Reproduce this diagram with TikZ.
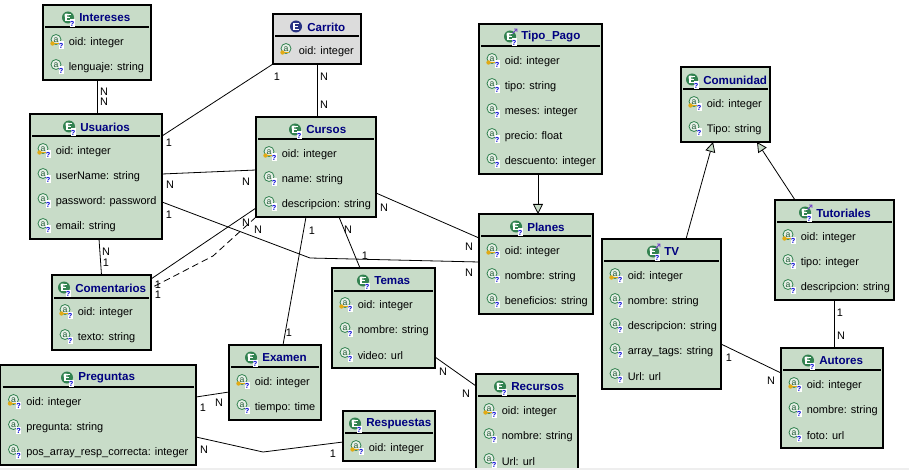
\documentclass[tikz,border=0pt]{standalone}
\usepackage{fontspec}
\setmainfont{Liberation Sans}
\usetikzlibrary{fit,calc,arrows.meta}
\definecolor{boxgreen}{RGB}{200,220,200}
\definecolor{boxgrey}{RGB}{220,220,220}
\definecolor{navy}{RGB}{0,0,128}
\definecolor{icongreen}{RGB}{50,130,80}
\definecolor{iconblue}{RGB}{40,50,130}
\definecolor{qblue}{RGB}{0,0,210}
\definecolor{keyyellow}{RGB}{225,170,20}
\definecolor{iconpurple}{RGB}{110,60,200}
\definecolor{stripgrey}{RGB}{238,238,238}

\newcommand\ebox[7][boxgreen]{%
  \node[ent, fill=#1, fit={(#3,#4)(#5,#6)}] (#2) {};
  \draw[sepline] (#3+2,#7) -- (#5-2,#7);}
\newcommand\etitle[5][eicon]{%
  \pic at (#3-11,#4+0.5) {#1};
  \node[ttl] (#2) at (#3,#4+1) {#5};}
\newcommand\eattr[5][aicon]{%
  \pic at (#3+13,#4-1.5) {#1};
  \node[attr] (#2) at (#3+25.5,#4+1.5) {#5};}

\tikzset{
  ent/.style={draw=black, line width=0.8pt, inner sep=0pt, outer sep=0pt},
  sepline/.style={draw=black, line width=0.8pt},
  ttl/.style={anchor=west, inner sep=0pt, text=navy, font=\bfseries\fontsize{8.7}{10}\selectfont},
  attr/.style={anchor=west, inner sep=0pt, text=black, font=\fontsize{8.2}{9}\selectfont},
  lbl/.style={inner sep=0pt, text=black, font=\fontsize{8.2}{9}\selectfont},
  conn/.style={draw=black, line width=0.6pt},
  dashconn/.style={draw=black, line width=0.6pt, dash pattern=on 5pt off 3pt},
  gen/.style={draw=black, line width=0.6pt, -{Triangle[open, fill=boxgreen, length=7.5pt, width=7.5pt]}},
  qbox/.pic={
    \fill[white] (0.5,0) rectangle (5.5,7.5);
    \node[inner sep=0pt, text=qblue, font=\bfseries\fontsize{5.5}{5.5}\selectfont] at (3,4) {?};
  },
  eicon/.pic={
    \fill[icongreen] (0,0) circle (6);
    \fill[white!35!icongreen] (-1.5,-2) circle (2.5);
    \draw[white, line width=1pt] (2.5,-3) -- (-2,-3) -- (-2,3) -- (2.5,3) (-2,0) -- (2,0);
    \pic at (1,2) {qbox};
  },
  eiconp/.pic={
    \pic {eicon};
    \draw[iconpurple, line width=0.6pt] (2.5,-3) -- (7,-7.5) (4,-7.5) -- (7,-7.5) -- (7,-4.5);
  },
  eiconblue/.pic={
    \fill[iconblue] (0,0) circle (6);
    \draw[white, line width=1pt] (2.5,-3) -- (-2,-3) -- (-2,3) -- (2.5,3) (-2,0) -- (2,0);
  },
  abase/.pic={
    \draw[icongreen, fill=white!55!boxgreen, line width=0.6pt] (0,0) circle (5);
    \node[inner sep=0pt, text=icongreen!70!black, font=\fontsize{6.5}{6.5}\selectfont] at (0,0.3) {a};
  },
  aicon/.pic={
    \pic {abase};
    \pic at (2,2) {qbox};
  },
  kicon/.pic={
    \pic {abase};
    \draw[keyyellow, line width=1.1pt] (-3.5,4) -- (3,4);
    \fill[keyyellow] (-3.5,4) circle (2.2);
    \pic at (2,2) {qbox};
  },
  kiconnq/.pic={
    \pic {abase};
    \draw[keyyellow, line width=1.1pt] (-3.5,4) -- (3,4);
    \fill[keyyellow] (-3.5,4) circle (2.2);
  },
}

\begin{document}
\begin{tikzpicture}[x=0.75pt,y=-0.75pt]
\useasboundingbox (0,0) rectangle (909,470);
\fill[white] (0,0) rectangle (909,470);

% Intereses
\ebox{intereses}{43}{5}{151}{80}{27}
\etitle{intereses-t}{79}{17}{Intereses}
\eattr[kicon]{intereses-1}{43}{41}{oid: integer}
\eattr{intereses-2}{43}{66}{lenguaje: string}

% Carrito
\ebox[boxgrey]{carrito}{273}{14}{361}{64}{36}
\etitle[eiconblue]{carrito-t}{307}{26}{Carrito}
\eattr[kiconnq]{carrito-1}{273}{50}{oid: integer}

% Usuarios
\ebox{usuarios}{30}{114}{162}{239}{136}
\etitle{usuarios-t}{80}{126}{Usuarios}
\eattr[kicon]{usuarios-1}{30}{150}{oid: integer}
\eattr{usuarios-2}{30}{175}{userName: string}
\eattr{usuarios-3}{30}{200}{password: password}
\eattr{usuarios-4}{30}{225}{email: string}

% Cursos
\ebox{cursos}{256}{117}{376}{217}{139}
\etitle{cursos-t}{306}{129}{Cursos}
\eattr[kicon]{cursos-1}{256}{153}{oid: integer}
\eattr{cursos-2}{256}{178}{name: string}
\eattr{cursos-3}{256}{203}{descripcion: string}

% Comentarios
\ebox{comentarios}{52}{275}{151}{350}{298}
\etitle{comentarios-t}{75}{287}{Comentarios}
\eattr[kicon]{comentarios-1}{52}{311}{oid: integer}
\eattr{comentarios-2}{52}{336}{texto: string}

% Preguntas
\ebox{preguntas}{0.5}{365}{196}{465}{387}
\etitle{preguntas-t}{78}{377}{Preguntas}
\eattr[kicon]{preguntas-1}{0.5}{401}{oid: integer}
\eattr{preguntas-2}{0.5}{426}{pregunta: string}
\eattr{preguntas-3}{0.5}{451}{pos\_array\_resp\_correcta: integer}

% Examen
\ebox{examen}{229}{345}{321}{420}{367}
\etitle{examen-t}{262}{357}{Examen}
\eattr[kicon]{examen-1}{229}{381}{oid: integer}
\eattr{examen-2}{229}{406}{tiempo: time}

% Temas
\ebox{temas}{332}{268}{435}{368}{291}
\etitle{temas-t}{374}{280}{Temas}
\eattr[kicon]{temas-1}{332}{304}{oid: integer}
\eattr{temas-2}{332}{329}{nombre: string}
\eattr{temas-3}{332}{354}{video: url}

% Respuestas
\ebox{respuestas}{343}{411}{435}{461}{433}
\etitle{respuestas-t}{366}{423}{Respuestas}
\eattr[kicon]{respuestas-1}{343}{447}{oid: integer}

% Tipo_Pago
\ebox{tipopago}{479}{24}{602}{174}{46}
\etitle[eiconp]{tipopago-t}{521}{36}{Tipo\_Pago}
\eattr[kicon]{tipopago-1}{479}{60}{oid: integer}
\eattr{tipopago-2}{479}{85}{tipo: string}
\eattr{tipopago-3}{479}{110}{meses: integer}
\eattr{tipopago-4}{479}{135}{precio: float}
\eattr{tipopago-5}{479}{160}{descuento: integer}

% Planes
\ebox{planes}{479}{214}{593}{314}{236}
\etitle{planes-t}{527}{226}{Planes}
\eattr[kicon]{planes-1}{479}{250}{oid: integer}
\eattr{planes-2}{479}{275}{nombre: string}
\eattr{planes-3}{479}{300}{beneficios: string}

% Comunidad
\ebox{comunidad}{681}{67}{770}{142}{89}
\etitle{comunidad-t}{703}{79}{Comunidad}
\eattr[kicon]{comunidad-1}{681}{103}{oid: integer}
\eattr{comunidad-2}{681}{128}{Tipo: string}

% Tutoriales
\ebox{tutoriales}{775}{200}{894}{300}{222}
\etitle[eiconp]{tutoriales-t}{816}{212}{Tutoriales}
\eattr[kicon]{tutoriales-1}{775}{236}{oid: integer}
\eattr{tutoriales-2}{775}{261}{tipo: integer}
\eattr{tutoriales-3}{775}{286}{descripcion: string}

% TV
\ebox{tv}{602}{239}{721}{389}{261}
\etitle[eiconp]{tv-t}{664}{251}{TV}
\eattr[kicon]{tv-1}{602}{275}{oid: integer}
\eattr{tv-2}{602}{300}{nombre: string}
\eattr{tv-3}{602}{325}{descripcion: string}
\eattr{tv-4}{602}{350}{array\_tags: string}
\eattr{tv-5}{602}{375}{Url: url}

% Autores
\ebox{autores}{781}{348}{883}{448}{370}
\etitle{autores-t}{819}{360}{Autores}
\eattr[kicon]{autores-1}{781}{384}{oid: integer}
\eattr{autores-2}{781}{409}{nombre: string}
\eattr{autores-3}{781}{434}{foto: url}

% Recursos
\ebox{recursos}{476}{374}{578}{485}{396}
\etitle{recursos-t}{511}{386}{Recursos}
\eattr[kicon]{recursos-1}{476}{410}{oid: integer}
\eattr{recursos-2}{476}{435}{nombre: string}
\eattr{recursos-3}{476}{460}{Url: url}

% connectors
\draw[conn] (intereses.south) -- (intereses.south |- usuarios.north);
\draw[conn] (carrito.south west) -- ($(usuarios.north east)+(0,22)$);
\draw[conn] (carrito.south) -- (carrito.south |- cursos.north);
\draw[conn] ($(usuarios.north east)+(0,60)$) -- ($(cursos.north west)+(0,53)$);
\coordinate (bendA) at (310,258);
\draw[conn] ($(usuarios.north east)+(0,88)$) -- (bendA) -- ($(planes.north west)+(0,48)$);
\draw[conn] ($(cursos.north east)+(0,76)$) -- ($(planes.north west)+(0,24)$);
\draw[conn] ($(cursos.north west)+(0,91)$) -- ($(comentarios.north east)+(0,4)$);
\coordinate (bendB) at (213,256);
\draw[dashconn] (cursos.south west) -- (bendB) -- ($(comentarios.north east)+(0,13)$);
\draw[conn] ($(usuarios.south)+(3,0)$) -- (comentarios.north);
\draw[conn] ($(cursos.south west)+(50,0)$) -- ($(examen.north west)+(54,0)$);
\draw[conn] ($(cursos.south west)+(83,0)$) -- ($(temas.north west)+(28,0)$);
\draw[conn] ($(examen.north west)+(0,47)$) -- ($(preguntas.north east)+(0,32)$);
\coordinate (bendC) at (263,452);
\draw[conn] ($(preguntas.north east)+(0,72)$) -- (bendC) -- ($(respuestas.north west)+(0,31)$);
\draw[conn] ($(temas.north east)+(0,89)$) -- ($(recursos.north west)+(0,12)$);
\draw[gen] ($(tipopago.south west)+(59,0)$) -- ($(planes.north west)+(59,0)$);
\draw[gen] ($(tv.north west)+(84,0)$) -- ($(comunidad.south west)+(32,0)$);
\draw[gen] ($(tutoriales.north west)+(20,0)$) -- ($(comunidad.south west)+(76,0)$);
\draw[conn] (tutoriales.south) -- (tutoriales.south |- autores.north);
\draw[conn] ($(tv.north east)+(0,105)$) -- ($(autores.north west)+(0,25)$);

% multiplicity labels
\node[lbl] (l1) at (104,92) {N};
\node[lbl] (l2) at (104,102) {N};
\node[lbl] (l3) at (277,77) {1};
\node[lbl] (l4) at (169,143) {1};
\node[lbl] (l5) at (324,77) {N};
\node[lbl] (l6) at (324,105) {N};
\node[lbl] (l7) at (170,185) {N};
\node[lbl] (l8) at (246,182) {N};
\node[lbl] (l9) at (169,215) {1};
\node[lbl] (l10) at (469,273) {N};
\node[lbl] (l11) at (384,208) {N};
\node[lbl] (l12) at (469,247) {N};
\node[lbl] (l13) at (246,223) {N};
\node[lbl] (l14) at (158,285) {1};
\node[lbl] (l15) at (258,230) {N};
\node[lbl] (l16) at (158,295) {1};
\node[lbl] (l17) at (106,252) {N};
\node[lbl] (l18) at (106,263) {1};
\node[lbl] (l19) at (312,231) {1};
\node[lbl] (l20) at (289,333) {1};
\node[lbl] (l21) at (348,230) {N};
\node[lbl] (l22) at (365,256) {1};
\node[lbl] (l23) at (203,408) {1};
\node[lbl] (l24) at (219,403) {N};
\node[lbl] (l25) at (204,450) {N};
\node[lbl] (l26) at (333,454) {1};
\node[lbl] (l27) at (443,372) {N};
\node[lbl] (l28) at (466,394) {N};
\node[lbl] (l29) at (840,313) {1};
\node[lbl] (l30) at (841,336) {N};
\node[lbl] (l31) at (729,358) {1};
\node[lbl] (l32) at (771,381) {N};

\fill[stripgrey] (0,467.5) rectangle (909,470);
\end{tikzpicture}
\end{document}
